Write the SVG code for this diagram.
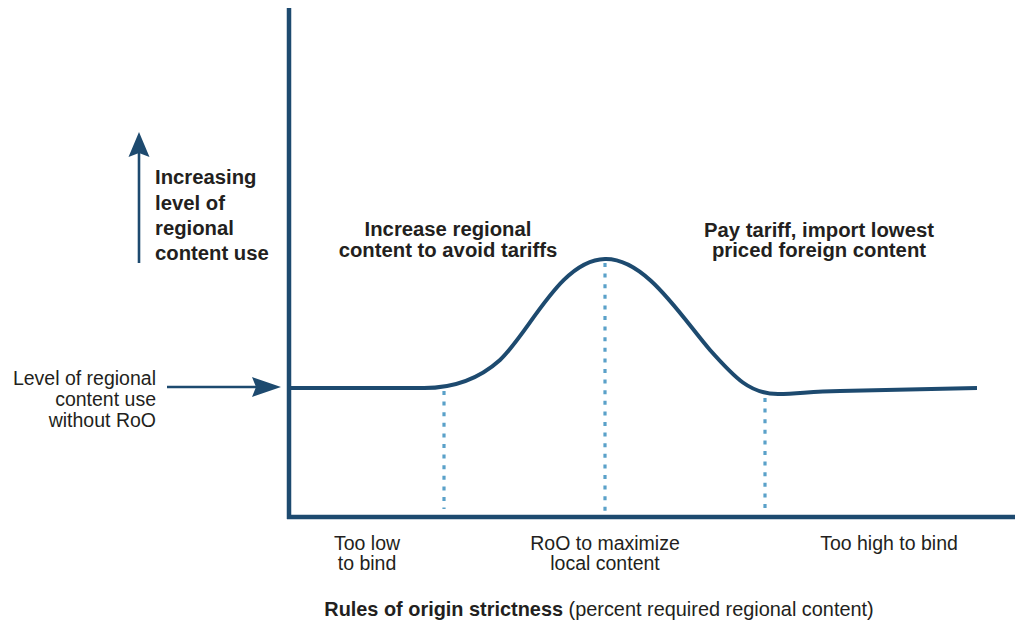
<svg xmlns="http://www.w3.org/2000/svg" width="1015" height="625" viewBox="0 0 1015 625">
<style>
.ax{stroke:#1d4a6f;stroke-width:4.5;fill:none}
.curve{stroke:#1d4a6f;stroke-width:4;fill:none;stroke-linejoin:round}
.dot{stroke:#5aa1c9;stroke-width:3.2;stroke-dasharray:4 6.6;fill:none}
.arr{stroke:#1d4a6f;stroke-width:2.6;fill:none}
.head{fill:#1d4a6f}
text{font-family:"Liberation Sans",Arial,sans-serif;fill:#231f20}
.b{font-weight:bold;font-size:20.3px}
.r{font-size:19.5px}
.cap{font-size:19.9px}
</style>
<rect width="1015" height="625" fill="#ffffff"/>
<g id="axes">
<line class="ax" x1="289" y1="8" x2="289" y2="519"/>
<line class="ax" x1="287" y1="517" x2="1015" y2="517"/>
</g>
<g id="connectors">
<line class="dot" x1="444" y1="391" x2="444" y2="509"/>
<line class="dot" x1="605" y1="263" x2="605" y2="515"/>
<line class="dot" x1="765" y1="398" x2="765" y2="509"/>
<path class="curve" d="M289,388 H420 C455,389 480,378 500,360 C530,332 560,260 605,259 C645,258 680,315 710,350 C735,378 750,394 778,394 C800,394 810,391 840,391 L977,388"/>
<line class="arr" x1="139" y1="263" x2="139" y2="150"/>
<path class="head" d="M139,132 L149.5,157 L139,153 L128.5,157 Z"/>
<line class="arr" x1="167" y1="387" x2="262" y2="387"/>
<path class="head" d="M281,387 L252,397 L256,387 L252,377 Z"/>
</g>
<g id="label-increasing">
<text class="b" x="155" y="184">Increasing</text>
<text class="b" x="155" y="209.5">level of</text>
<text class="b" x="155" y="235">regional</text>
<text class="b" x="155" y="260">content use</text>
</g>
<g id="label-without">
<text class="r" x="156" y="385" text-anchor="end">Level of regional</text>
<text class="r" x="156" y="406" text-anchor="end">content use</text>
<text class="r" x="156" y="427" text-anchor="end">without RoO</text>
</g>
<g id="label-increase">
<text class="b" x="448" y="236" text-anchor="middle">Increase regional</text>
<text class="b" x="448" y="257" text-anchor="middle">content to avoid tariffs</text>
</g>
<g id="label-pay">
<text class="b" x="819" y="237" text-anchor="middle">Pay tariff, import lowest</text>
<text class="b" x="819" y="257" text-anchor="middle">priced foreign content</text>
</g>
<g id="label-toolow">
<text class="r" x="367" y="550" text-anchor="middle">Too low</text>
<text class="r" x="367" y="570" text-anchor="middle">to bind</text>
</g>
<g id="label-roo">
<text class="r" x="605" y="550" text-anchor="middle">RoO to maximize</text>
<text class="r" x="605" y="570" text-anchor="middle">local content</text>
</g>
<g id="label-toohigh">
<text class="r" x="889" y="550" text-anchor="middle">Too high to bind</text>
</g>
<g id="caption">
<text x="599" y="616" text-anchor="middle" class="cap"><tspan font-weight="bold">Rules of origin strictness</tspan> (percent required regional content)</text>
</g>
</svg>
